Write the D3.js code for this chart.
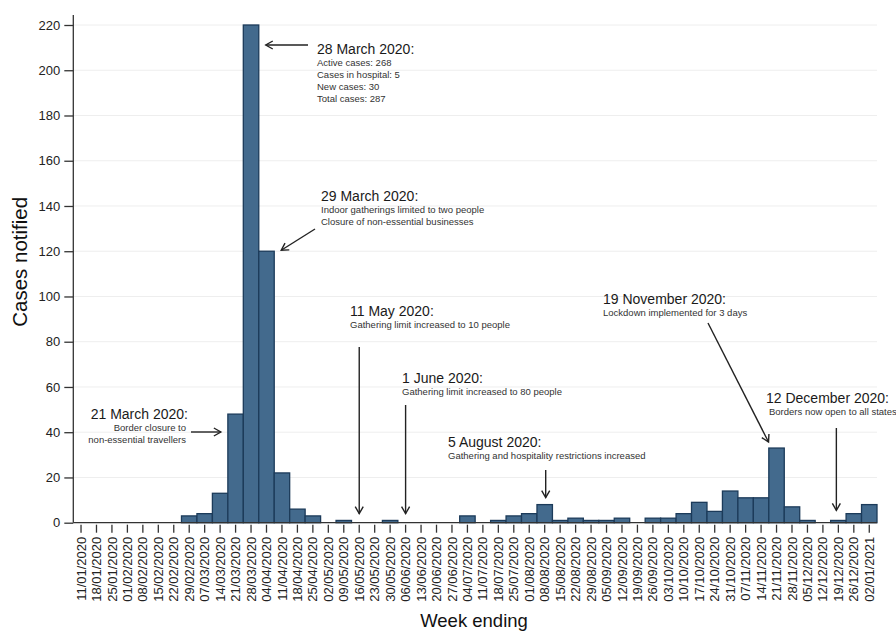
<!DOCTYPE html>
<html>
<head>
<meta charset="utf-8">
<script src="https://cdn.jsdelivr.net/npm/d3@7"></script>
<style>
  html, body { margin: 0; padding: 0; background: #fff; }
  svg { display: block; font-family: "Liberation Sans", Arial, sans-serif; }
</style>
</head>
<body>
<svg id="chart" width="896" height="631"></svg>
<script>
const weeks = ["11/01/2020","18/01/2020","25/01/2020","01/02/2020","08/02/2020","15/02/2020","22/02/2020","29/02/2020",
  "07/03/2020","14/03/2020","21/03/2020","28/03/2020","04/04/2020","11/04/2020","18/04/2020","25/04/2020",
  "02/05/2020","09/05/2020","16/05/2020","23/05/2020","30/05/2020","06/06/2020","13/06/2020","20/06/2020",
  "27/06/2020","04/07/2020","11/07/2020","18/07/2020","25/07/2020","01/08/2020","08/08/2020","15/08/2020",
  "22/08/2020","29/08/2020","05/09/2020","12/09/2020","19/09/2020","26/09/2020","03/10/2020","10/10/2020",
  "17/10/2020","24/10/2020","31/10/2020","07/11/2020","14/11/2020","21/11/2020","28/11/2020","05/12/2020",
  "12/12/2020","19/12/2020","26/12/2020","02/01/2021"];
const cases = [0,0,0,0,0,0,0,3,
  4,13,48,220,120,22,6,3,
  0,1,0,0,1,0,0,0,
  0,3,0,1,3,4,8,1,
  2,1,1,2,0,2,2,4,
  9,5,14,11,11,33,7,1,
  0,1,4,8];
const yTicks = [0,20,40,60,80,100,120,140,160,180,200,220];

// annotations: title, detail lines
const annTitles = ["28 March 2020:","29 March 2020:","21 March 2020:","11 May 2020:","1 June 2020:",
  "5 August 2020:","19 November 2020:","12 December 2020:"];
const annLines = [
  ["Active cases: 268","Cases in hospital: 5","New cases: 30","Total cases: 287"],
  ["Indoor gatherings limited to two people","Closure of non-essential businesses"],
  ["Border closure to","non-essential travellers"],
  ["Gathering limit increased to 10 people"],
  ["Gathering limit increased to 80 people"],
  ["Gathering and hospitality restrictions increased"],
  ["Lockdown implemented for 3 days"],
  ["Borders now open to all states"]
];

const svg = d3.select("#chart");
const pLeft = 73.3, pRight = 877, pTop = 25, pBottom = 522.7;

const x = d3.scaleBand().domain(weeks).range([pLeft, pRight]).paddingInner(0).paddingOuter(0);
const y = d3.scaleLinear().domain([0, 220]).range([pBottom, pTop]);

// gridlines
svg.append("g").selectAll("line").data(yTicks.filter(d => d > 0)).join("line")
  .attr("x1", pLeft).attr("x2", pRight)
  .attr("y1", d => y(d)).attr("y2", d => y(d))
  .attr("stroke", "#eeeeee").attr("stroke-width", 1);

// bars
svg.append("g").selectAll("rect").data(weeks.map((w, i) => ({w, v: cases[i]})).filter(d => d.v > 0)).join("rect")
  .attr("x", d => x(d.w))
  .attr("y", d => y(d.v))
  .attr("width", x.bandwidth())
  .attr("height", d => y(0) - y(d.v))
  .attr("fill", "#436a8d")
  .attr("stroke", "#1c3b5a")
  .attr("stroke-width", 1.3);

// y axis
const yAxis = svg.append("g").attr("transform", `translate(${pLeft},0)`)
  .call(d3.axisLeft(y).tickValues(yTicks).tickSize(9).tickPadding(4));
yAxis.select(".domain").remove();
yAxis.append("line").attr("x1", 0).attr("x2", 0).attr("y1", 15).attr("y2", pBottom).attr("stroke", "#333").attr("stroke-width", 1.3);
yAxis.selectAll(".tick line").attr("stroke", "#333").attr("stroke-width", 1.3);
yAxis.selectAll(".tick text").attr("font-size", 13).attr("fill", "#222").attr("font-family", "Liberation Sans, Arial, sans-serif");

// x axis
const xAxis = svg.append("g").attr("transform", `translate(0,${pBottom})`)
  .call(d3.axisBottom(x).tickSize(10).tickPadding(4));
xAxis.select(".domain").remove();
xAxis.append("line").attr("x1", pLeft).attr("x2", pRight).attr("y1", 0).attr("y2", 0).attr("stroke", "#333").attr("stroke-width", 1.3);
xAxis.selectAll(".tick line").attr("stroke", "#333").attr("stroke-width", 1.3).attr("y1", 2);
xAxis.selectAll(".tick text")
  .attr("font-size", 13).attr("fill", "#222").attr("font-family", "Liberation Sans, Arial, sans-serif")
  .attr("text-anchor", "end")
  .attr("transform", "rotate(-90)")
  .attr("x", -14).attr("y", 0).attr("dy", "0.35em");

// axis titles
svg.append("text").attr("transform", `translate(27,${(pTop + pBottom) / 2 - 12}) rotate(-90)`)
  .attr("text-anchor", "middle").attr("font-size", 20.5).attr("fill", "#111").text("Cases notified");
svg.append("text").attr("x", 474).attr("y", 627)
  .attr("text-anchor", "middle").attr("font-size", 18.5).attr("fill", "#111").text("Week ending");

// arrow marker
const defs = svg.append("defs");
defs.append("marker").attr("id", "arr").attr("markerUnits", "userSpaceOnUse")
  .attr("viewBox", "-10 -6 12 12").attr("refX", 0).attr("refY", 0)
  .attr("markerWidth", 12).attr("markerHeight", 12).attr("orient", "auto")
  .append("path").attr("d", "M-7,-4 L0,0 L-7,4").attr("fill", "none")
  .attr("stroke", "#222").attr("stroke-width", 1.4);

// annotation layout (pixel placement of labels, arrow tips tied to bars)
const cx = w => x(w) + x.bandwidth() / 2;
const annLayout = [
  {tx: 317, ty: 54, anchor: "start", a: [308, 45, x("28/03/2020") + x.bandwidth() + 7, 45]},
  {tx: 321, ty: 201, anchor: "start", a: [315, 229, x("04/04/2020") + x.bandwidth() + 7, y(120) - 1]},
  {tx: 188, ty: 419, anchor: "end", a: [191, 432, x("21/03/2020") - 7, 432]},
  {tx: 350, ty: 316, anchor: "start", a: [cx("16/05/2020"), 347, cx("16/05/2020"), y(4)]},
  {tx: 402, ty: 383, anchor: "start", a: [cx("06/06/2020"), 405, cx("06/06/2020"), y(4)]},
  {tx: 448, ty: 447, anchor: "start", a: [cx("08/08/2020") + 1, 470, cx("08/08/2020") + 1, y(8) - 7]},
  {tx: 603, ty: 304, anchor: "start", a: [708, 323, cx("21/11/2020") - 8, y(33) - 6]},
  {tx: 766, ty: 403, anchor: "start", a: [cx("19/12/2020") - 2, 428, cx("19/12/2020") - 2, y(1) - 10]}
];

annTitles.forEach((t, i) => {
  const L = annLayout[i];
  const g = svg.append("g");
  g.append("text").attr("x", L.tx).attr("y", L.ty).attr("text-anchor", L.anchor)
    .attr("font-size", 14).attr("fill", "#1a1a1a").text(t);
  annLines[i].forEach((s, j) => {
    g.append("text").attr("x", L.anchor === "end" ? L.tx - 2 : L.tx + (i === 7 ? 3 : 0))
      .attr("y", L.ty + 12 + j * 12).attr("text-anchor", L.anchor)
      .attr("font-size", 9.5).attr("fill", "#333").text(s);
  });
  g.append("line").attr("x1", L.a[0]).attr("y1", L.a[1]).attr("x2", L.a[2]).attr("y2", L.a[3])
    .attr("stroke", "#222").attr("stroke-width", 1.4).attr("marker-end", "url(#arr)");
});
</script>
</body>
</html>
